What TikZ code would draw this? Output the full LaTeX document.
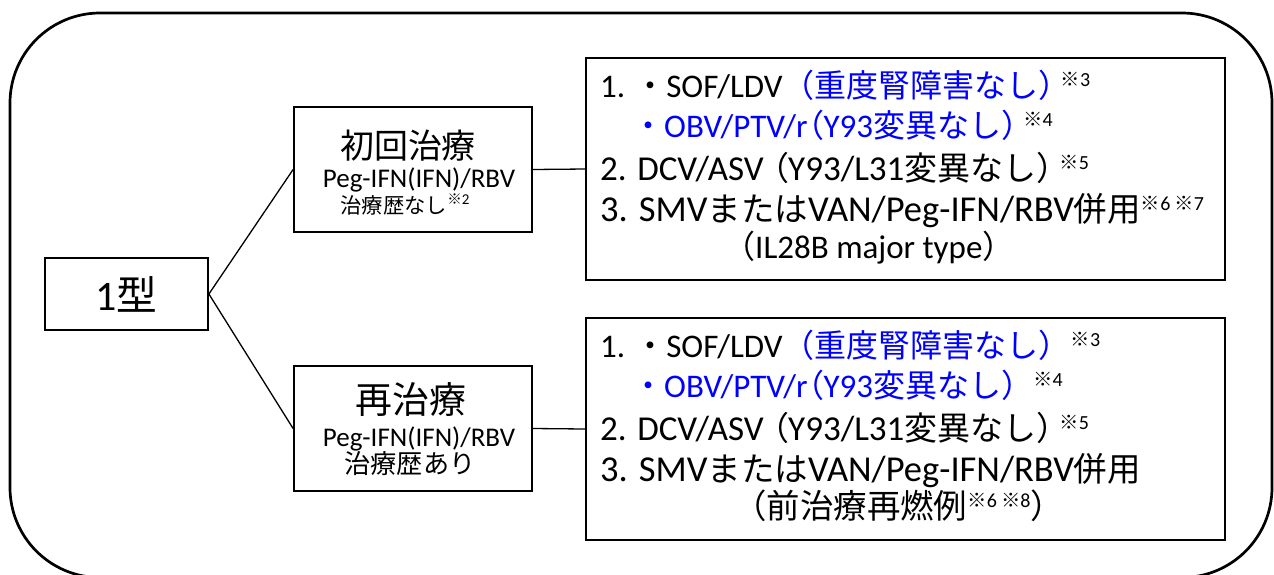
\documentclass[tikz,border=0pt]{standalone}
\usepackage{fontspec}
\setmainfont{Carlito}
\newfontfamily\jp[Scale=0.97]{Noto Sans CJK JP}
\newfontfamily\jph[Scale=0.97,RawFeature=+palt]{Noto Sans CJK JP}
\definecolor{jblue}{RGB}{0,0,255}
\newcommand\J[1]{{\jp #1}}
\newcommand\Jh[1]{{\jph #1}}
\newcommand\fs[1]{\fontsize{#1}{#1}\selectfont}
\newcommand\nt[1]{\raisebox{11pt}{\fs{20}\J{※}#1}}
\newcommand\ntsmall[1]{\raisebox{9pt}{\fs{15}\J{※}#1}}
\begin{document}
\begin{tikzpicture}[x=1pt,y=-1pt,
  box/.style={draw, line width=1.8pt, inner sep=0pt},
  txt/.style={anchor=base west, inner sep=0pt, font=\fs{33}, text height=25pt, text depth=7pt},
  ctxt/.style={anchor=base, inner sep=0pt, text height=20pt, text depth=5pt},
  link/.style={line width=1.3pt}]
\useasboundingbox (0,0) rectangle (1274,574);
\draw[line width=2.7pt, rounded corners=90pt] (10,13) rectangle (1272,577.5);

% boxes
\node[box, minimum width=163, minimum height=72] (root) at (126.5,294) {\fs{42}1\J{型}};
\node[box, minimum width=238, minimum height=125] (b1) at (413,169.5) {};
\node[box, minimum width=238, minimum height=125] (b2) at (413,428.5) {};
\node[box, minimum width=639, minimum height=222] (r1) at (905.5,169) {};
\node[box, minimum width=639, minimum height=222] (r2) at (905.5,429) {};

% connectors
\draw[link] (root.east) -- (b1.west);
\draw[link] (root.east) -- (b2.west);
\draw[link] (b1.east) -- (r1.west);
\draw[link] (b2.east) -- (r2.west);

% left box texts
\node[ctxt] (b1t) at (408,158) {\fs{35}\J{初回治療}};
\node[ctxt] (b1p) at (419,187) {\fs{27}Peg-IFN(IFN)/RBV};
\node[ctxt] (b1n) at (405,213) {\fs{22}\J{治療歴なし}\ntsmall{2}};
\node[ctxt] (b2t) at (411,413) {\fs{38}\J{再治療}};
\node[ctxt] (b2p) at (419,446) {\fs{27}Peg-IFN(IFN)/RBV};
\node[ctxt] (b2n) at (410,473) {\fs{27}\J{治療歴あり}};

% right top box texts
\node[txt] (a1) at (600,97) {1.\hspace{9pt}\J{・}SOF/LDV\textcolor{jblue}{\J{（重度腎障害なし）}}\kern-10pt\nt{3}};
\node[txt] (a2) at (632,137) {\textcolor{jblue}{\J{・}OBV/PTV/r\Jh{（}Y93\J{変異なし）}}\kern-10pt\nt{4}};
\node[txt] (a3) at (600,180) {\fs{35}2. DCV/ASV \Jh{\fs{34}（}Y93/L31\J{\fs{34}変異なし）}\kern-10pt\nt{5}};
\node[txt] (a4) at (600,221) {\fs{36.5}3. SMV\J{\fs{34.5}または}VAN/Peg-IFN/RBV\J{\fs{34.5}併用}\nt{6}\hspace{4pt}\nt{7}};
\node[txt] (a5) at (723,258) {\J{（}IL28B major type\J{）}};

% right bottom box texts
\node[txt] (c1) at (600,357) {1.\hspace{9pt}\J{・}SOF/LDV\textcolor{jblue}{\J{（重度腎障害なし）}}\nt{3}};
\node[txt] (c2) at (632,397) {\textcolor{jblue}{\J{・}OBV/PTV/r\Jh{（}Y93\J{変異なし）}}\nt{4}};
\node[txt] (c3) at (600,440) {\fs{35}2. DCV/ASV \Jh{\fs{34}（}Y93/L31\J{\fs{34}変異なし）}\kern-10pt\nt{5}};
\node[txt] (c4) at (600,481) {\fs{36.5}3. SMV\J{\fs{34.5}または}VAN/Peg-IFN/RBV\J{\fs{34.5}併用}};
\node[txt] (c5) at (733,518) {\J{\fs{34.5}（前治療再燃例}\nt{6}\hspace{4pt}\nt{8}\J{\fs{34.5}）}};
\end{tikzpicture}
\end{document}
